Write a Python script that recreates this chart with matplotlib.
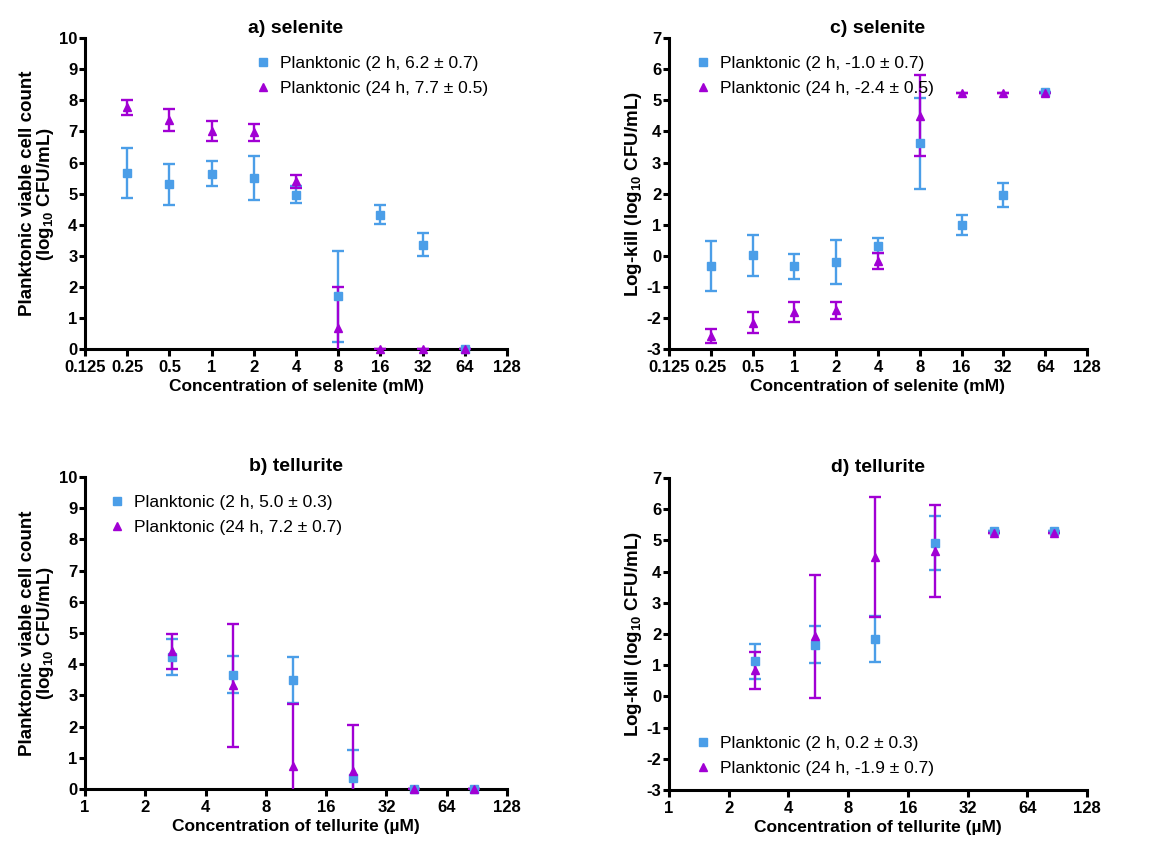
import numpy as np
import matplotlib
matplotlib.use('Agg')
import matplotlib.pyplot as plt
from matplotlib.lines import Line2D

plt.rcParams['font.family'] = ['Liberation Sans', 'DejaVu Sans']
plt.rcParams['mathtext.fontset'] = 'custom'
plt.rcParams['mathtext.rm'] = 'Liberation Sans:bold'
plt.rcParams['mathtext.default'] = 'rm'
plt.rcParams['axes.unicode_minus'] = False

blue = '#4b9ee8'
purple = '#a100d4'

# selenite (mM)
se_conc = [0.25, 0.5, 1, 2, 4, 8, 16, 32, 64]
# viable count, log10 CFU/mL
se_count_2h = [5.66, 5.30, 5.64, 5.50, 4.96, 1.69, 4.32, 3.35, 0.0]
se_count_2h_sd = [0.80, 0.66, 0.41, 0.72, 0.27, 1.45, 0.31, 0.37, 0.0]
se_count_24h = [7.78, 7.37, 7.02, 6.97, 5.39, 0.68, 0.0, 0.0, 0.0]
se_count_24h_sd = [0.24, 0.35, 0.32, 0.28, 0.22, 1.32, 0.0, 0.0, 0.0]
# log-kill
se_kill_2h = [-0.34, 0.01, -0.34, -0.20, 0.33, 3.62, 0.99, 1.96, 5.26]
se_kill_2h_sd = [0.80, 0.66, 0.40, 0.72, 0.24, 1.46, 0.33, 0.38, 0.0]
se_kill_24h = [-2.57, -2.16, -1.81, -1.76, -0.18, 4.50, 5.23, 5.23, 5.23]
se_kill_24h_sd = [0.22, 0.34, 0.31, 0.27, 0.26, 1.30, 0.0, 0.0, 0.0]

# tellurite (uM)
te_conc = [2.73, 5.47, 10.9, 21.9, 43.75, 87.5]
te_count_2h = [4.23, 3.66, 3.50, 0.35, 0.0, 0.0]
te_count_2h_sd = [0.58, 0.59, 0.73, 0.91, 0.0, 0.0]
te_count_24h = [4.41, 3.32, 0.73, 0.57, 0.0, 0.0]
te_count_24h_sd = [0.57, 1.96, 1.99, 1.49, 0.0, 0.0]
te_kill_2h = [1.12, 1.66, 1.83, 4.92, 5.31, 5.31]
te_kill_2h_sd = [0.56, 0.58, 0.73, 0.87, 0.0, 0.0]
te_kill_24h = [0.83, 1.92, 4.47, 4.66, 5.24, 5.24]
te_kill_24h_sd = [0.60, 1.98, 1.93, 1.46, 0.0, 0.0]

se_ticks = [0.125, 0.25, 0.5, 1, 2, 4, 8, 16, 32, 64, 128]
se_ticklabels = ['0.125', '0.25', '0.5', '1', '2', '4', '8', '16', '32', '64', '128']
te_ticks = [1, 2, 4, 8, 16, 32, 64, 128]
te_ticklabels = ['1', '2', '4', '8', '16', '32', '64', '128']

count_label = 'Planktonic viable cell count\n(log$_{10}$ CFU/mL)'
kill_label = 'Log-kill (log$_{10}$ CFU/mL)'


def panel(ax, x, y2, e2, y24, e24, title, xlabel, ylabel, xticks, xticklabels,
          ylim, leg_labels, leg_loc, leg_anchor):
    for y, e, c, m in [(y2, e2, blue, 's'), (y24, e24, purple, '^')]:
        ax.errorbar(x, y, yerr=e, fmt='none', ecolor=c, elinewidth=1.7,
                    capsize=4.5, capthick=1.7, zorder=3)
        ax.plot(x, y, ls='none', marker=m, color=c, markersize=6,
                clip_on=False, zorder=4)
    ax.set_xscale('log', base=2)
    ax.set_xlim(xticks[0], xticks[-1])
    ax.set_xticks(xticks)
    ax.set_xticklabels(xticklabels)
    ax.minorticks_off()
    ax.set_ylim(ylim)
    ax.set_yticks(np.arange(ylim[0], ylim[1] + 1, 1))
    for s in ['top', 'right']:
        ax.spines[s].set_visible(False)
    for s in ['left', 'bottom']:
        ax.spines[s].set_linewidth(2.2)
    ax.tick_params(direction='out', width=2.2, labelsize=12)
    ax.tick_params(axis='x', length=5, pad=3)
    ax.tick_params(axis='y', length=4, pad=1.5)
    for lab in ax.get_xticklabels() + ax.get_yticklabels():
        lab.set_fontweight('bold')
    ax.set_title(title, fontsize=14, fontweight='bold', pad=4)
    ax.set_xlabel(xlabel, fontsize=12.5, fontweight='bold', labelpad=3)
    ax.set_ylabel(ylabel, fontsize=13.5, fontweight='bold', labelpad=2,
                  linespacing=0.95)
    handles = [Line2D([], [], ls='none', marker='s', color=blue, markersize=6),
               Line2D([], [], ls='none', marker='^', color=purple, markersize=6)]
    ax.legend(handles, leg_labels, loc=leg_loc, bbox_to_anchor=leg_anchor,
              frameon=False, fontsize=12.5, handlelength=1.0, handletextpad=0.5,
              labelspacing=0.55, borderaxespad=0)


fig = plt.figure(figsize=(11.65, 8.48), dpi=100)
ax_a = fig.add_axes([0.0730, 0.5884, 0.3622, 0.3666])
ax_c = fig.add_axes([0.5742, 0.5884, 0.3588, 0.3666])
ax_b = fig.add_axes([0.0730, 0.0696, 0.3622, 0.368])
ax_d = fig.add_axes([0.5742, 0.0684, 0.3588, 0.368])

panel(ax_a, se_conc, se_count_2h, se_count_2h_sd, se_count_24h, se_count_24h_sd,
      'a) selenite', 'Concentration of selenite (mM)', count_label,
      se_ticks, se_ticklabels, (0, 10),
      ['Planktonic (2 h, 6.2 ± 0.7)', 'Planktonic (24 h, 7.7 ± 0.5)'],
      'upper left', (0.385, 0.965))
panel(ax_c, se_conc, se_kill_2h, se_kill_2h_sd, se_kill_24h, se_kill_24h_sd,
      'c) selenite', 'Concentration of selenite (mM)', kill_label,
      se_ticks, se_ticklabels, (-3, 7),
      ['Planktonic (2 h, -1.0 ± 0.7)', 'Planktonic (24 h, -2.4 ± 0.5)'],
      'upper left', (0.043, 0.965))
panel(ax_b, te_conc, te_count_2h, te_count_2h_sd, te_count_24h, te_count_24h_sd,
      'b) tellurite', 'Concentration of tellurite (\u00b5M)', count_label,
      te_ticks, te_ticklabels, (0, 10),
      ['Planktonic (2 h, 5.0 ± 0.3)', 'Planktonic (24 h, 7.2 ± 0.7)'],
      'upper left', (0.039, 0.965))
panel(ax_d, te_conc, te_kill_2h, te_kill_2h_sd, te_kill_24h, te_kill_24h_sd,
      'd) tellurite', 'Concentration of tellurite (\u00b5M)', kill_label,
      te_ticks, te_ticklabels, (-3, 7),
      ['Planktonic (2 h, 0.2 ± 0.3)', 'Planktonic (24 h, -1.9 ± 0.7)'],
      'lower left', (0.043, 0.022))

fig.savefig('out.png', dpi=100)
